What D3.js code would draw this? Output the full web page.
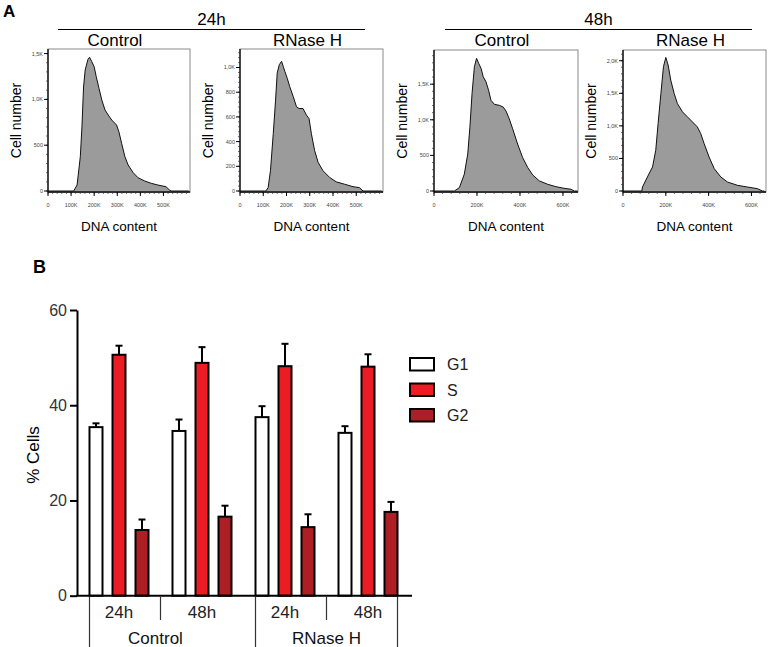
<!DOCTYPE html>
<html><head><meta charset="utf-8">
<script src="https://cdn.jsdelivr.net/npm/d3@7"></script>
<style>body{margin:0;background:#fff}svg{display:block;font-family:"Liberation Sans",Arial,sans-serif}</style>
</head><body><svg id="c" width="768" height="647"></svg>
<script>
// ---------- Panel A data (DNA content in K, cell counts) ----------
const ctrl24X = [0,104,111,126,140,147,154,161,173,180,190,200,209,221,233,247,261,276,297,307,319,333,347,369,390,419,447,476,511,526,533,610];
const ctrl24Y = [0,0,0,65,375,700,1135,1320,1436,1460,1410,1356,1247,1120,993,884,829,775,720,647,520,375,284,200,145,109,84,65,47,11,0,0];
const rnh24X = [0,105,111,121,131,143,153,160,169,179,186,193,203,214,229,243,254,271,286,297,307,321,336,357,386,414,450,486,514,529,610];
const rnh24Y = [0,0,0,27,164,464,736,955,1023,1050,1009,968,914,845,764,682,668,668,614,586,464,327,232,164,109,74,55,35,27,0,0];
const ctrl48X = [0,90,95,118,141,157,167,177,188,198,208,219,229,242,254,265,281,304,322,335,350,366,389,412,436,459,490,529,567,605,637,653,668];
const ctrl48Y = [0,0,0,47,236,519,896,1368,1745,1863,1792,1722,1604,1533,1415,1274,1217,1203,1179,1123,1014,873,660,472,330,226,142,94,61,38,24,0,0];
const rnh48X = [0,88,91,114,138,153,164,177,189,200,211,223,239,254,278,301,324,347,363,379,402,426,457,488,535,581,628,651,660];
const rnh48Y = [0,0,61,215,369,626,1036,1497,1908,2051,1933,1703,1497,1344,1215,1138,1062,985,882,728,523,344,215,138,87,61,36,0,0];
const histTitles = ["Control","RNase H","Control","RNase H"];
const timeHeaders = ["24h","48h"];

// ---------- Panel B data ----------
const groups = ["Control 24h","Control 48h","RNase H 24h","RNase H 48h"];
const groupTimes = ["24h","48h","24h","48h"];
const conditions = ["Control","RNase H"];
const phases = ["G1","S","G2"];
const g1Values = [35.4, 34.6, 37.5, 34.2];
const sValues  = [50.6, 48.9, 48.2, 48.1];
const g2Values = [13.8, 16.6, 14.4, 17.6];
const g1Err = [0.8, 2.4, 2.3, 1.4];
const sErr  = [1.9, 3.3, 4.7, 2.6];
const g2Err = [2.2, 2.3, 2.7, 2.1];
const barYTicks = [0, 20, 40, 60];

const svg = d3.select("#c");
const font = "Liberation Sans, Arial, sans-serif";

// ---------- Panel A ----------
svg.append("text").attr("x", 3).attr("y", 17).attr("font-size", 17).attr("font-weight", "bold").text("A");

const headerCfg = [
  {text: timeHeaders[0], x1: 58, x2: 365},
  {text: timeHeaders[1], x1: 445, x2: 752}
];
headerCfg.forEach(h => {
  svg.append("line").attr("x1", h.x1).attr("x2", h.x2).attr("y1", 29.5).attr("y2", 29.5).attr("stroke", "#000").attr("stroke-width", 1.2);
  svg.append("text").attr("x", (h.x1 + h.x2) / 2).attr("y", 25).attr("text-anchor", "middle").attr("font-size", 17).text(h.text);
});

const hists = [
  {xs: ctrl24X, ys: ctrl24Y, l: 48, r: 190, t: 49, b: 192, xMax: 615, yMax: 1550, yStep: 500, xStep: 100},
  {xs: rnh24X, ys: rnh24Y, l: 240, r: 383, t: 49, b: 192, xMax: 615, yMax: 1150, yStep: 200, xStep: 100},
  {xs: ctrl48X, ys: ctrl48Y, l: 434, r: 578, t: 50, b: 192, xMax: 670, yMax: 1980, yStep: 500, xStep: 200},
  {xs: rnh48X, ys: rnh48Y, l: 623, r: 766, t: 50, b: 192, xMax: 668, yMax: 2165, yStep: 500, xStep: 200}
];

const fmtY = v => v >= 1000 ? (v / 1000).toFixed(1).replace(".", ",") + "K" : String(v);
const fmtX = v => v === 0 ? "0" : v + "K";

hists.forEach((h, i) => {
  const x = d3.scaleLinear().domain([0, h.xMax]).range([h.l, h.r]);
  const y = d3.scaleLinear().domain([0, h.yMax]).range([h.b - 1, h.t]);
  const g = svg.append("g");
  const pts = h.xs.map((v, k) => [v, h.ys[k]]);
  const area = d3.area().x(d => x(d[0])).y0(y(0)).y1(d => y(d[1]));
  const line = d3.line().x(d => x(d[0])).y(d => y(d[1]));
  g.append("path").datum(pts).attr("d", area).attr("fill", "#9b9b9b");
  g.append("path").datum(pts).attr("d", line).attr("fill", "none").attr("stroke", "#111").attr("stroke-width", 1);
  // frame
  g.append("rect").attr("x", h.l).attr("y", h.t).attr("width", h.r - h.l).attr("height", h.b - h.t)
    .attr("fill", "none").attr("stroke", "#8a8a8a").attr("stroke-width", 1);
  // y axis
  const yMajor = d3.range(0, h.yMax + 1, h.yStep);
  const yMinor = d3.range(0, h.yMax + 1, h.yStep / 5);
  const yAx = g.append("g").attr("transform", `translate(${h.l},0)`);
  yAx.append("line").attr("x1", 0).attr("x2", 0).attr("y1", h.t).attr("y2", h.b).attr("stroke", "#000").attr("stroke-width", 1.3);
  yAx.selectAll(".mn").data(yMinor).join("line").attr("x1", -2).attr("x2", 0).attr("y1", d => y(d)).attr("y2", d => y(d)).attr("stroke", "#333").attr("stroke-width", 0.7);
  yAx.selectAll(".mj").data(yMajor).join("line").attr("x1", -4).attr("x2", 0).attr("y1", d => y(d)).attr("y2", d => y(d)).attr("stroke", "#000").attr("stroke-width", 1);
  yAx.selectAll("text").data(yMajor).join("text").attr("x", -5).attr("y", d => y(d)).attr("dy", "0.35em")
    .attr("text-anchor", "end").attr("font-size", 5.5).attr("fill", "#444").text(fmtY);
  // x axis
  const xMajor = d3.range(0, h.xMax - 20, h.xStep).filter(v => v <= (i < 2 ? 500 : 600));
  const xMinor = d3.range(0, h.xMax, h.xStep / 5);
  const xAx = g.append("g").attr("transform", `translate(0,${h.b})`);
  xAx.append("line").attr("x1", h.l).attr("x2", h.r).attr("y1", 0).attr("y2", 0).attr("stroke", "#000").attr("stroke-width", 1.3);
  xAx.selectAll(".mn").data(xMinor).join("line").attr("x1", d => x(d)).attr("x2", d => x(d)).attr("y1", 0).attr("y2", 2).attr("stroke", "#333").attr("stroke-width", 0.7);
  xAx.selectAll(".mj").data(xMajor).join("line").attr("x1", d => x(d)).attr("x2", d => x(d)).attr("y1", 0).attr("y2", 4).attr("stroke", "#000").attr("stroke-width", 1);
  xAx.selectAll("text").data(xMajor).join("text").attr("x", d => x(d)).attr("y", 15)
    .attr("text-anchor", "middle").attr("font-size", 5.5).attr("fill", "#444").text(fmtX);
  // titles
  const cx = (h.l + h.r) / 2;
  g.append("text").attr("x", cx - 4).attr("y", 46).attr("text-anchor", "middle").attr("font-size", 17).text(histTitles[i]);
  g.append("text").attr("x", cx).attr("y", 231).attr("text-anchor", "middle").attr("font-size", 13.5).text("DNA content");
  g.append("text").attr("transform", `translate(${h.l - 27},${(h.t + h.b) / 2}) rotate(-90)`)
    .attr("text-anchor", "middle").attr("font-size", 14).text("Cell number");
});

// ---------- Panel B ----------
svg.append("text").attr("x", 33).attr("y", 273).attr("font-size", 18).attr("font-weight", "bold").text("B");

const yB = d3.scaleLinear().domain([0, 60]).range([595.7, 310]);
const xG = d3.scaleBand().domain(groups).range([77.5, 409.5]).paddingInner(0).paddingOuter(0);
const inner = 59;
const xS = d3.scaleBand().domain(phases).range([0, inner]).paddingInner(10 / 23).paddingOuter(0);
const colors = {G1: "#ffffff", S: "#ec1c24", G2: "#ae1e25"};
const vals = {G1: g1Values, S: sValues, G2: g2Values};
const errs = {G1: g1Err, S: sErr, G2: g2Err};
const groupLeft = gname => xG(gname) + (xG.bandwidth() - inner) / 2;

const bars = [];
groups.forEach((gname, gi) => phases.forEach(p => bars.push({g: gname, p, v: vals[p][gi], e: errs[p][gi]})));

const bg = svg.append("g");
// error bars
bg.selectAll(".err").data(bars).join("line")
  .attr("x1", d => groupLeft(d.g) + xS(d.p) + xS.bandwidth() / 2)
  .attr("x2", d => groupLeft(d.g) + xS(d.p) + xS.bandwidth() / 2)
  .attr("y1", d => yB(d.v)).attr("y2", d => yB(d.v + d.e)).attr("stroke", "#000").attr("stroke-width", 2);
bg.selectAll(".cap").data(bars).join("line")
  .attr("x1", d => groupLeft(d.g) + xS(d.p) + xS.bandwidth() / 2 - 3.5)
  .attr("x2", d => groupLeft(d.g) + xS(d.p) + xS.bandwidth() / 2 + 3.5)
  .attr("y1", d => yB(d.v + d.e)).attr("y2", d => yB(d.v + d.e)).attr("stroke", "#000").attr("stroke-width", 2);
// bars
bg.selectAll(".bar").data(bars).join("rect")
  .attr("x", d => groupLeft(d.g) + xS(d.p)).attr("width", xS.bandwidth())
  .attr("y", d => yB(d.v)).attr("height", d => yB(0) - yB(d.v))
  .attr("fill", d => colors[d.p]).attr("stroke", "#000").attr("stroke-width", 2);

// y axis
const yAxB = svg.append("g").attr("transform", "translate(77,0)")
  .call(d3.axisLeft(yB).tickValues(barYTicks).tickSize(7).tickPadding(3).tickSizeOuter(0));
yAxB.select(".domain").attr("stroke-width", 2);
yAxB.selectAll(".tick line").attr("stroke-width", 2);
yAxB.selectAll(".tick text").attr("font-size", 16).attr("font-family", font).attr("fill", "#333");
svg.append("text").attr("transform", `translate(39,455) rotate(-90)`).attr("text-anchor", "middle").attr("font-size", 17).text("% Cells");

// x axis line
svg.append("line").attr("x1", 76).attr("x2", 412).attr("y1", yB(0)).attr("y2", yB(0)).attr("stroke", "#000").attr("stroke-width", 2);

// group dividers and labels
const longDiv = [groupLeft(groups[0]), groupLeft(groups[2]), groupLeft(groups[3]) + inner];
const shortDiv = [xG(groups[1]), xG(groups[3])];
svg.selectAll(".ld").data(longDiv).join("line").attr("x1", d => d).attr("x2", d => d)
  .attr("y1", yB(0) + 1).attr("y2", 647).attr("stroke", "#333").attr("stroke-width", 1.2);
svg.selectAll(".sd").data(shortDiv).join("line").attr("x1", d => d).attr("x2", d => d)
  .attr("y1", yB(0) + 1).attr("y2", 620).attr("stroke", "#333").attr("stroke-width", 1.2);
svg.selectAll(".gt").data(groups).join("text").attr("x", d => xG(d) + xG.bandwidth() / 2).attr("y", 618)
  .attr("text-anchor", "middle").attr("font-size", 17).attr("fill", "#222").text((d, i) => groupTimes[i]);
svg.selectAll(".ct").data(conditions).join("text")
  .attr("x", (d, i) => (xG(groups[2 * i]) + xG(groups[2 * i + 1]) + xG.bandwidth()) / 2 - (i === 0 ? 5 : 0))
  .attr("y", 644).attr("text-anchor", "middle").attr("font-size", 17).attr("fill", "#111").text(d => d);

// legend
const lg = svg.append("g").attr("transform", "translate(410,358)");
phases.forEach((p, i) => {
  lg.append("rect").attr("x", 0).attr("y", i * 25.5).attr("width", 24).attr("height", 12.5)
    .attr("fill", colors[p]).attr("stroke", "#000").attr("stroke-width", 2);
  lg.append("text").attr("x", 37).attr("y", i * 25.5 + 6.5).attr("dy", "0.35em").attr("font-size", 16).attr("fill", "#222").text(p);
});
</script></body></html>
